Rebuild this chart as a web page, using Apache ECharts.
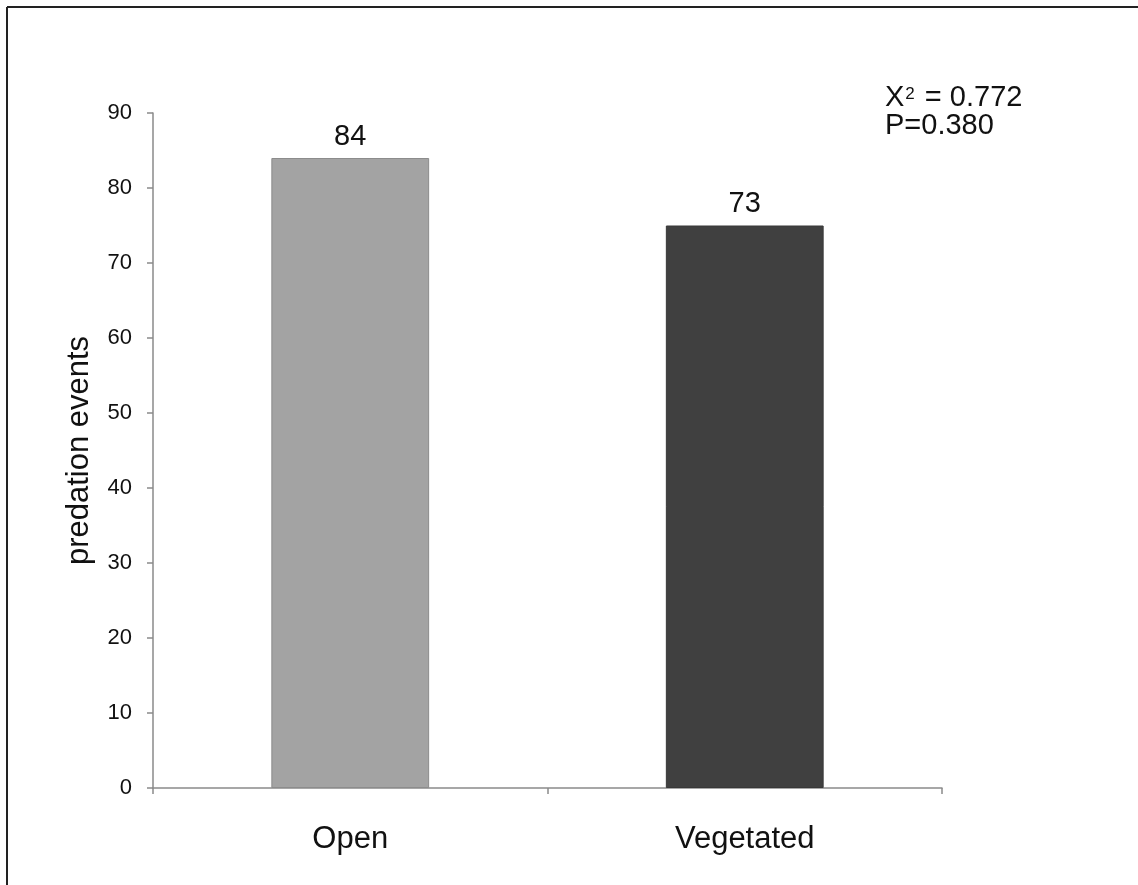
<!DOCTYPE html>
<html>
<head>
<meta charset="utf-8">
<script src="https://cdn.jsdelivr.net/npm/echarts@6/dist/echarts.min.js"></script>
<style>html,body{margin:0;padding:0;background:#fff}#c{width:1138px;height:885px}</style>
</head>
<body>
<div id="c"></div>
<script>
const categories = ["Open", "Vegetated"];
const values = [84, 75];
const valueLabels = ["84", "73"];
const barColors = ["#a3a3a3", "#404040"];
const yTicks = { min: 0, max: 90, interval: 10 };
const statLines = ["X{sup|2} = 0.772", "P=0.380"];

const chart = echarts.init(document.getElementById('c'), null, { renderer: 'canvas' });
const FONT = '"Liberation Sans", Arial, sans-serif';
chart.setOption({
  animation: false,
  backgroundColor: '#fff',
  grid: { left: 153, right: 196, top: 113, bottom: 97 },
  xAxis: {
    type: 'category',
    data: categories,
    axisLine: { lineStyle: { color: '#8a8a8a', width: 1.5 } },
    axisTick: { show: true, length: 6, lineStyle: { color: '#8a8a8a', width: 1.5 } },
    axisLabel: { color: '#111', fontSize: 31, fontFamily: FONT, margin: 36 }
  },
  yAxis: {
    type: 'value',
    min: yTicks.min, max: yTicks.max, interval: yTicks.interval,
    name: 'predation events',
    nameLocation: 'middle',
    nameGap: 58,
    nameTextStyle: { color: '#111', fontSize: 31, fontFamily: FONT },
    axisLine: { show: true, lineStyle: { color: '#8a8a8a', width: 1.5 } },
    axisTick: { show: true, length: 6, lineStyle: { color: '#8a8a8a', width: 1.5 } },
    splitLine: { show: false },
    axisLabel: { color: '#111', fontSize: 22, fontFamily: FONT, margin: 21 }
  },
  series: [{
    type: 'bar',
    barWidth: '40%',
    data: values.map((v, i) => ({
      value: v,
      itemStyle: { color: barColors[i], borderColor: i === 0 ? '#8c8c8c' : '#383838', borderWidth: 1 }
    })),
    label: {
      show: true, position: 'top', distance: 7,
      color: '#111', fontSize: 29, fontFamily: FONT,
      formatter: p => valueLabels[p.dataIndex]
    }
  }],
  graphic: [
    { type: 'line', shape: { x1: 7, y1: 7, x2: 1138, y2: 7 }, style: { stroke: '#222', lineWidth: 2 } },
    { type: 'line', shape: { x1: 7, y1: 7, x2: 7, y2: 885 }, style: { stroke: '#222', lineWidth: 2 } },
    {
      type: 'text', left: 885, top: 83,
      style: {
        text: statLines.join('\n'),
        fill: '#111', fontSize: 29, fontFamily: FONT, lineHeight: 28,
        rich: { sup: { fontSize: 17, fontFamily: FONT, fill: '#111', lineHeight: 28, padding: [0, 2, 6, 1] } }
      }
    }
  ]
});
</script>
</body>
</html>
